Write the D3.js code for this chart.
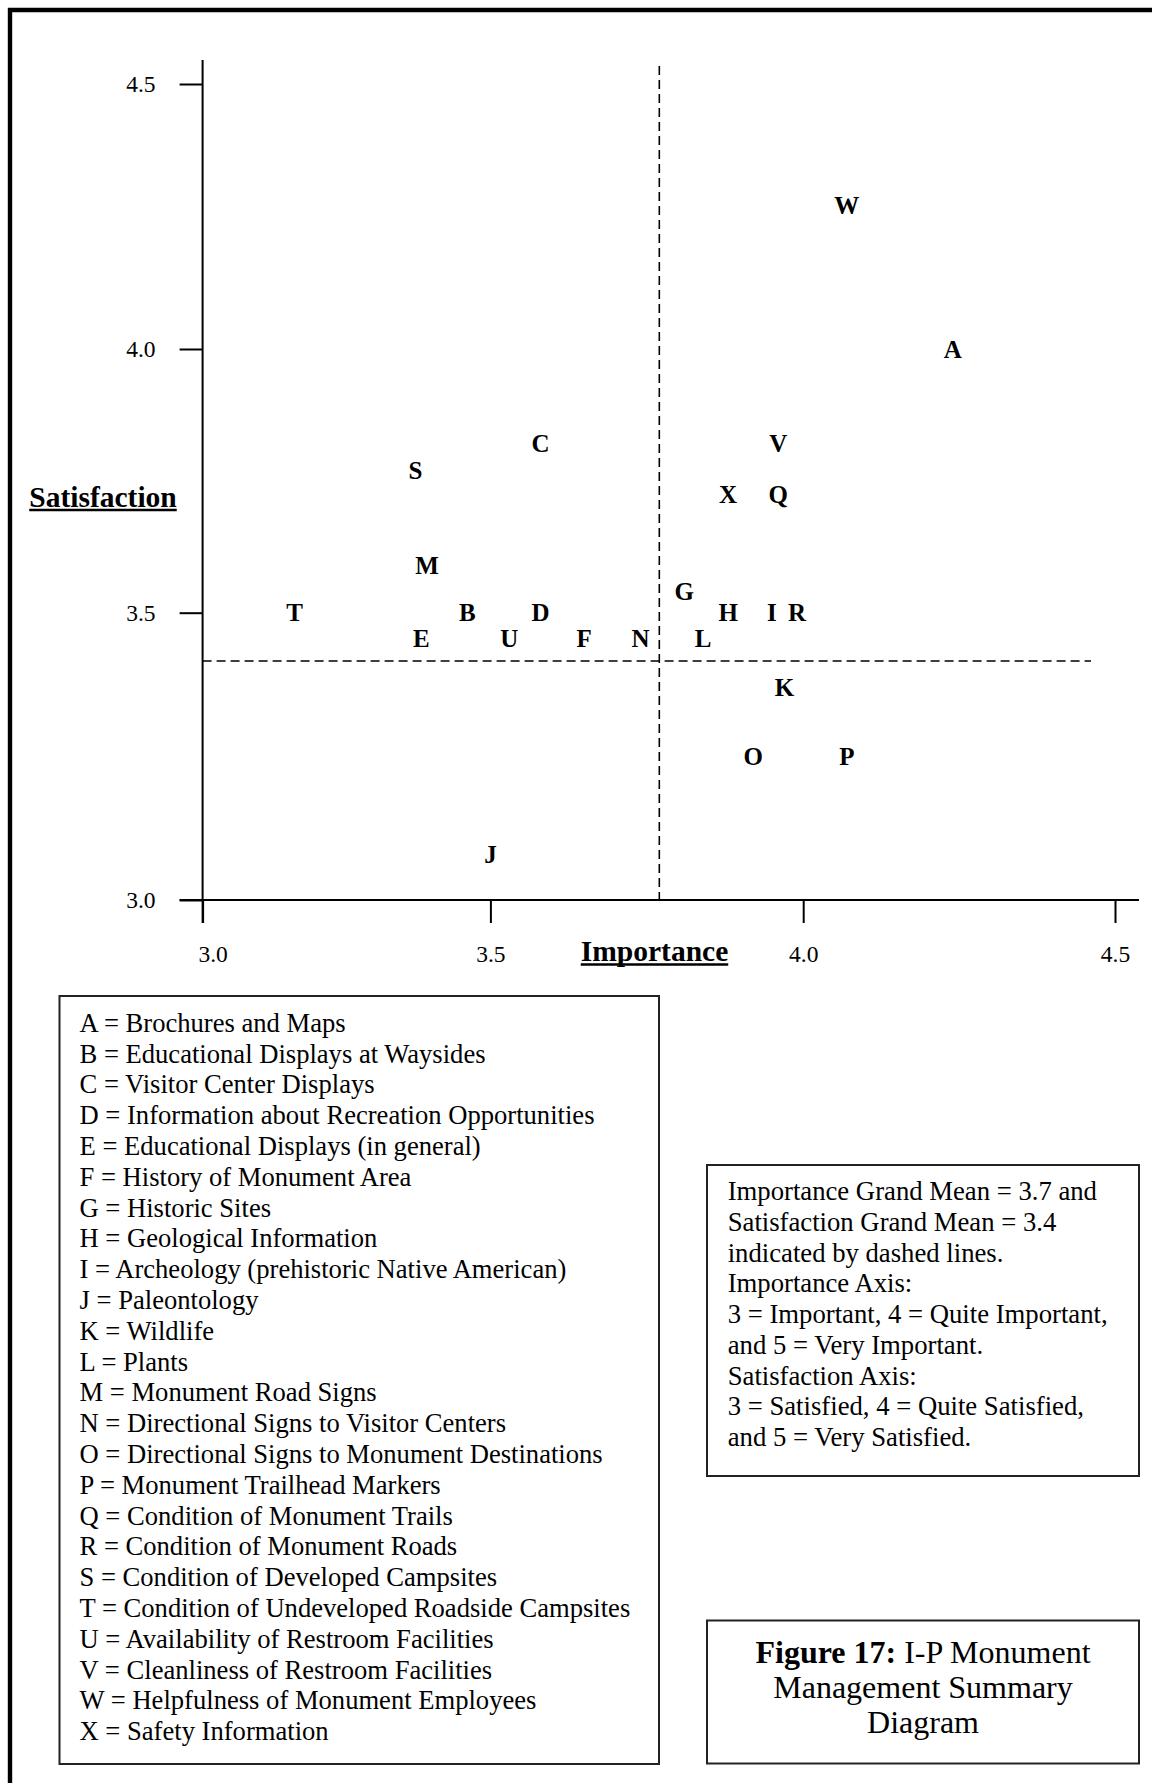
<!DOCTYPE html>
<html>
<head>
<meta charset="utf-8">
<script src="https://cdn.jsdelivr.net/npm/d3@7/dist/d3.min.js"></script>
<style>
  html, body { margin: 0; padding: 0; background: #fff; }
  svg { display: block; }
  text { font-family: "Liberation Serif", "Times New Roman", Times, serif; fill: #000; }
</style>
</head>
<body>
<svg id="chart" width="1152" height="1783"></svg>
<script>
// ---------------- DATA ----------------
const codes = ["A","B","C","D","E","F","G","H","I","J","K","L","M","N","O","P","Q","R","S","T","U","V","W","X"];
const importance   = [4.24, 3.46, 3.58, 3.58, 3.38, 3.65, 3.81, 3.88, 3.95, 3.50, 3.97, 3.84, 3.39, 3.74, 3.92, 4.07, 3.96, 3.99, 3.37, 3.16, 3.53, 3.96, 4.07, 3.88];
const satisfaction = [4.00, 3.50, 3.82, 3.50, 3.455, 3.455, 3.54, 3.50, 3.50, 3.08, 3.37, 3.455, 3.59, 3.455, 3.25, 3.25, 3.725, 3.50, 3.77, 3.50, 3.455, 3.82, 4.27, 3.725];
const descriptions = [
  "Brochures and Maps",
  "Educational Displays at Waysides",
  "Visitor Center Displays",
  "Information about Recreation Opportunities",
  "Educational Displays (in general)",
  "History of Monument Area",
  "Historic Sites",
  "Geological Information",
  "Archeology (prehistoric Native American)",
  "Paleontology",
  "Wildlife",
  "Plants",
  "Monument Road Signs",
  "Directional Signs to Visitor Centers",
  "Directional Signs to Monument Destinations",
  "Monument Trailhead Markers",
  "Condition of Monument Trails",
  "Condition of Monument Roads",
  "Condition of Developed Campsites",
  "Condition of Undeveloped Roadside Campsites",
  "Availability of Restroom Facilities",
  "Cleanliness of Restroom Facilities",
  "Helpfulness of Monument Employees",
  "Safety Information"
];
const xTicks = [3.0, 3.5, 4.0, 4.5];
const yTicks = [3.0, 3.5, 4.0, 4.5];
const meanImportance = 3.77;
const meanSatisfaction = 3.416;
const xTitle = "Importance";
const yTitle = "Satisfaction";
const notesLines = [
  "Importance Grand Mean = 3.7 and",
  "Satisfaction Grand Mean = 3.4",
  "indicated by dashed lines.",
  "Importance Axis:",
  "3 = Important, 4 = Quite Important,",
  "and 5 = Very Important.",
  "Satisfaction Axis:",
  "3 = Satisfied, 4 = Quite Satisfied,",
  "and 5 = Very Satisfied."
];
const figureBold = "Figure 17:";
const figureLines = [" I-P Monument", "Management Summary", "Diagram"];

// ---------------- LAYOUT ----------------
const svg = d3.select("#chart");
svg.append("rect").attr("width",1152).attr("height",1783).attr("fill","#fff");

// outer page border (top + left)
svg.append("path")
  .attr("d","M10,1783 L10,10 L1152,10")
  .attr("fill","none").attr("stroke","#000").attr("stroke-width",4.4);

const x = d3.scaleLinear().domain(xTicks).range([202.6, 490.4, 803.2, 1115]);
const y = d3.scaleLinear().domain(yTicks).range([900, 612.7, 349, 84]);

const tickLen = 23;
const fmt = d3.format(".1f");

// Y axis
const yAxis = svg.append("g").attr("transform",`translate(${x(3.0)},0)`)
  .call(d3.axisLeft(y).tickValues(yTicks).tickSize(tickLen).tickSizeOuter(0).tickPadding(24).tickFormat(fmt));
// X axis
const xAxis = svg.append("g").attr("transform",`translate(0,${y(3.0)})`)
  .call(d3.axisBottom(x).tickValues(xTicks).tickSize(tickLen).tickSizeOuter(0).tickPadding(22).tickFormat(fmt));

[yAxis, xAxis].forEach(g => {
  g.select(".domain").remove();
  g.selectAll(".tick line").attr("stroke","#000").attr("stroke-width",2);
  g.selectAll(".tick text")
    .style("font-family",'"Liberation Serif","Times New Roman",serif')
    .style("font-size","23.5px").attr("fill","#000");
});
xAxis.selectAll(".tick text").attr("dy","0.71em")
  .attr("dx", d => d === 3.0 ? 10 : 0);

// axis lines (extend past the first/last ticks as in the reference)
svg.append("line")
  .attr("x1",x(3.0)).attr("x2",x(3.0))
  .attr("y1",y(4.5)-24).attr("y2",y(3.0)+tickLen)
  .attr("stroke","#000").attr("stroke-width",2);
svg.append("line")
  .attr("x1",x(3.0)-tickLen).attr("x2",x(4.5)+24)
  .attr("y1",y(3.0)).attr("y2",y(3.0))
  .attr("stroke","#000").attr("stroke-width",2);

// grand mean dashed lines
svg.append("line")
  .attr("x1",x(meanImportance)).attr("x2",x(meanImportance))
  .attr("y1",66).attr("y2",y(3.0))
  .attr("stroke","#000").attr("stroke-width",1.6).attr("stroke-dasharray","9,5");
svg.append("line")
  .attr("x1",x(3.0)).attr("x2",1091)
  .attr("y1",y(meanSatisfaction)).attr("y2",y(meanSatisfaction))
  .attr("stroke","#000").attr("stroke-width",1.6).attr("stroke-dasharray","9,5");

// point letters
const points = codes.map((c,i) => ({code:c, imp:importance[i], sat:satisfaction[i]}));
svg.append("g").selectAll("text").data(points).join("text")
  .attr("x", d => x(d.imp))
  .attr("y", d => y(d.sat))
  .attr("dy","0.34em")
  .attr("text-anchor","middle")
  .style("font-size","25px").style("font-weight","bold")
  .text(d => d.code);

// axis titles with underline
function underlinedTitle(str, cx, baseline) {
  const t = svg.append("text")
    .attr("x",cx).attr("y",baseline)
    .attr("text-anchor","middle")
    .style("font-size","29.5px").style("font-weight","bold")
    .text(str);
  const w = t.node().getComputedTextLength();
  svg.append("line")
    .attr("x1",cx - w/2).attr("x2",cx + w/2)
    .attr("y1",baseline+3.5).attr("y2",baseline+3.5)
    .attr("stroke","#000").attr("stroke-width",2.4);
}
underlinedTitle(yTitle, 103, 506.5);
underlinedTitle(xTitle, 654.5, 961);

// ---------------- LEGEND BOX ----------------
svg.append("rect")
  .attr("x",59.5).attr("y",996).attr("width",599.5).attr("height",768)
  .attr("fill","none").attr("stroke","#222").attr("stroke-width",2);
svg.append("g").selectAll("text").data(codes).join("text")
  .attr("x",79.5)
  .attr("y",(d,i) => 1031.7 + i*30.8)
  .style("font-size","26.6px")
  .text((d,i) => `${d} = ${descriptions[i]}`);

// ---------------- NOTES BOX ----------------
svg.append("rect")
  .attr("x",707).attr("y",1165).attr("width",432).attr("height",311)
  .attr("fill","none").attr("stroke","#222").attr("stroke-width",2);
svg.append("g").selectAll("text").data(notesLines).join("text")
  .attr("x",727.7)
  .attr("y",(d,i) => 1200.3 + i*30.72)
  .style("font-size","26.7px")
  .text(d => d);

// ---------------- FIGURE TITLE BOX ----------------
svg.append("rect")
  .attr("x",707).attr("y",1620.5).attr("width",432).attr("height",143)
  .attr("fill","none").attr("stroke","#222").attr("stroke-width",2);
const cxT = 923;
const t1 = svg.append("text").attr("x",cxT).attr("y",1663)
  .attr("text-anchor","middle").style("font-size","32px");
t1.append("tspan").style("font-weight","bold").text(figureBold);
t1.append("tspan").text(figureLines[0]);
svg.append("text").attr("x",cxT).attr("y",1697.5)
  .attr("text-anchor","middle").style("font-size","32px").text(figureLines[1]);
svg.append("text").attr("x",cxT).attr("y",1733)
  .attr("text-anchor","middle").style("font-size","32px").text(figureLines[2]);
</script>
</body>
</html>
